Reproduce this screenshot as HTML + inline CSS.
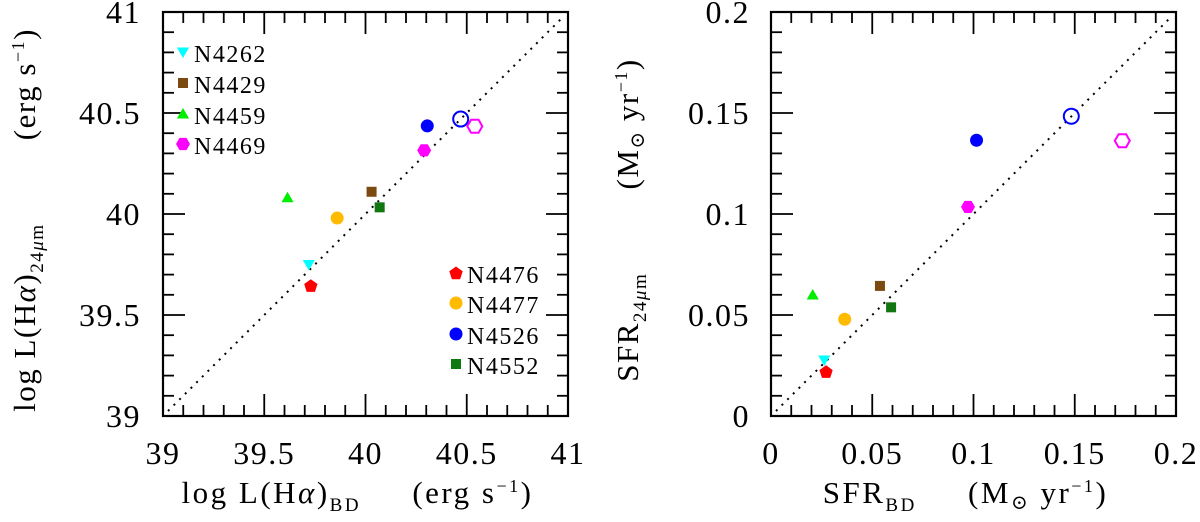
<!DOCTYPE html>
<html><head><meta charset="utf-8"><style>
html,body{margin:0;padding:0;background:#fff;}
svg{display:block;font-family:"Liberation Serif","DejaVu Serif",serif;}
</style></head><body>
<svg id="chart" width="1200" height="522" viewBox="0 0 1200 522" xmlns="http://www.w3.org/2000/svg">
<g id="left"></g>
<g id="right"></g>
</svg>
<script>
const galaxies = ["N4262","N4429","N4459","N4469","N4476","N4477","N4526","N4552"];
const leftX = [39.72,40.03,39.615,40.29,39.73,39.86,40.305,40.07];
const leftY = [39.75,40.11,40.08,40.315,39.645,39.98,40.436,40.033];
const rightX = [0.0263,0.0538,0.0206,0.0973,0.0272,0.0364,0.1015,0.0593];
const rightY = [0.0277,0.0644,0.0599,0.1035,0.0219,0.0479,0.1365,0.0538];
const leftOpenX = [40.47,40.54];
const leftOpenY = [40.47,40.434];
const rightOpenX = [0.1483,0.1735];
const rightOpenY = [0.1484,0.1363];
const leftTicks = ["39","39.5","40","40.5","41"];
const rightTicks = ["0","0.05","0.1","0.15","0.2"];
const shapes = ["tridown","square","triup","hex","pent","circle","circle","square"];
const colors = ["#00ffff","#7a4a10","#00ee00","#ff00ff","#ff0000","#ffbb00","#0000ff","#117711"];

const NS="http://www.w3.org/2000/svg";
function mk(tag,attrs,parent){const e=document.createElementNS(NS,tag);for(const k in attrs)e.setAttribute(k,attrs[k]);parent.appendChild(e);return e;}
function poly(n,r,rot,cx,cy){let p=[];for(let i=0;i<n;i++){const a=rot+i*2*Math.PI/n;p.push((cx+r*Math.cos(a)).toFixed(1)+","+(cy+r*Math.sin(a)).toFixed(1));}return p.join(" ");}
function marker(g,shape,cx,cy,color,open){
  let e;
  const fill=open?"none":color, st=open?{stroke:color,"stroke-width":2}:{};
  if(shape==="circle") e=mk("circle",Object.assign({cx:cx,cy:cy,r:open?7.5:6.5,fill:fill},st),g);
  else if(shape==="square") e=mk("rect",{x:cx-5,y:cy-5,width:10,height:10,fill:fill},g);
  else if(shape==="triup") e=mk("polygon",{points:poly(3,7,-Math.PI/2,cx,cy+1),fill:fill},g);
  else if(shape==="tridown") e=mk("polygon",{points:poly(3,7,Math.PI/2,cx,cy-1),fill:fill},g);
  else if(shape==="hex") e=mk("polygon",Object.assign({points:poly(6,open?7.5:7,0,cx,cy),fill:fill},st),g);
  else if(shape==="pent") e=mk("polygon",{points:poly(5,7,-Math.PI/2,cx,cy+0.5),fill:fill},g);
  return e;
}
function panel(g,x0,x1,y0,y1,vmin,vmax,ticks,minorStep,xs,ys,oxs,oys,ytitleX,ylab,xlab,legend,ylabRight){
  const sx=v=>x0+(v-vmin)/(vmax-vmin)*(x1-x0);
  const sy=v=>y1-(v-vmin)/(vmax-vmin)*(y1-y0);
  const frame=mk("rect",{x:x0,y:y0,width:x1-x0,height:y1-y0,fill:"none",stroke:"#000","stroke-width":2.2},g);
  
  
  const n=Math.round((vmax-vmin)/minorStep);
  for(let i=1;i<n;i++){
    const v=vmin+i*minorStep, major=(i%5===0), L=major?22:11;
    const px=sx(v), py=sy(v);
    mk("line",{x1:px,y1:y1,x2:px,y2:y1-L,stroke:"#000","stroke-width":1.8},g);
    mk("line",{x1:px,y1:y0,x2:px,y2:y0+L,stroke:"#000","stroke-width":1.8},g);
    mk("line",{x1:x0,y1:py,x2:x0+L,y2:py,stroke:"#000","stroke-width":1.8},g);
    mk("line",{x1:x1,y1:py,x2:x1-L,y2:py,stroke:"#000","stroke-width":1.8},g);
  }
  ticks.forEach((t,i)=>{
    const v=vmin+i*(vmax-vmin)/(ticks.length-1);
    const tx=mk("text",{x:sx(v),y:464,"text-anchor":"middle","font-size":32,"letter-spacing":1.5},g);
    tx.textContent=t;
    
    
    const ty=mk("text",{x:ylabRight,y:sy(v)+11,"text-anchor":"end","font-size":32,"letter-spacing":1.5},g);
    ty.textContent=t;
    
    
  });
  const diag=mk("line",{x1:sx(vmin)+5,y1:sy(vmin)-5,x2:sx(vmax)-5,y2:sy(vmax)+5,stroke:"#000","stroke-width":2,"stroke-dasharray":"2 6"},g);
  
  
  xs.forEach((v,i)=>{
    const m=marker(g,shapes[i],sx(v),sy(ys[i]),colors[i],false);
    
    
  });
  oxs.forEach((v,i)=>{
    const m=marker(g,i===0?"circle":"hex",sx(v),sy(oys[i]),i===0?"#0000ff":"#ff00ff",true);
    
    
  });
  const yl=mk("text",{transform:"translate("+ytitleX+",220) rotate(-90)","text-anchor":"middle","font-size":31,"letter-spacing":1.5},g);
  yl.innerHTML=ylab;
  
  
  const xl=mk("text",{x:(x0+x1)/2-8,y:503,"text-anchor":"middle","font-size":31,"letter-spacing":2.5},g);
  xl.innerHTML=xlab;
  
  
  if(legend){
    const pos=[[183,54],[183,85],[183,116],[183,146],[456,275],[456,305],[456,336],[456,366]];
    galaxies.forEach((n,i)=>{
      const lg=mk("g",{},g);
      
      
      marker(lg,shapes[i],pos[i][0],pos[i][1]-2,colors[i],false);
      const t=mk("text",{x:pos[i][0]+11,y:pos[i][1]+8,"font-size":24,"letter-spacing":1.5},lg);
      t.textContent=n;
    });
  }
}
panel(document.getElementById("left"),163,568,12,416,39,41,leftTicks,0.1,leftX,leftY,leftOpenX,leftOpenY,35,
 'log L(H<tspan font-style="italic">α</tspan>)<tspan font-size="19" dy="8">24<tspan font-style="italic">μ</tspan>m</tspan><tspan dy="-8" xml:space="preserve">         (erg s</tspan><tspan font-size="18" dy="-11">−1</tspan><tspan dy="11">)</tspan>',
 'log L(H<tspan font-style="italic">α</tspan>)<tspan font-size="19" dy="8">BD</tspan><tspan dy="-8" xml:space="preserve">     (erg s</tspan><tspan font-size="18" dy="-11">−1</tspan><tspan dy="11">)</tspan>',
 true,141);
panel(document.getElementById("right"),771,1176,12,416,0,0.2,rightTicks,0.01,rightX,rightY,rightOpenX,rightOpenY,638,
 'SFR<tspan font-size="19" dy="8">24<tspan font-style="italic">μ</tspan>m</tspan><tspan dy="-8" xml:space="preserve">         (M</tspan><tspan font-size="20" dy="6">⊙</tspan><tspan dy="-6"> yr</tspan><tspan font-size="18" dy="-11">−1</tspan><tspan dy="11">)</tspan>',
 'SFR<tspan font-size="19" dy="8">BD</tspan><tspan dy="-8" xml:space="preserve">     (M</tspan><tspan font-size="20" dy="6">⊙</tspan><tspan dy="-6"> yr</tspan><tspan font-size="18" dy="-11">−1</tspan><tspan dy="11">)</tspan>',
 false,750);
</script>
</body></html>
